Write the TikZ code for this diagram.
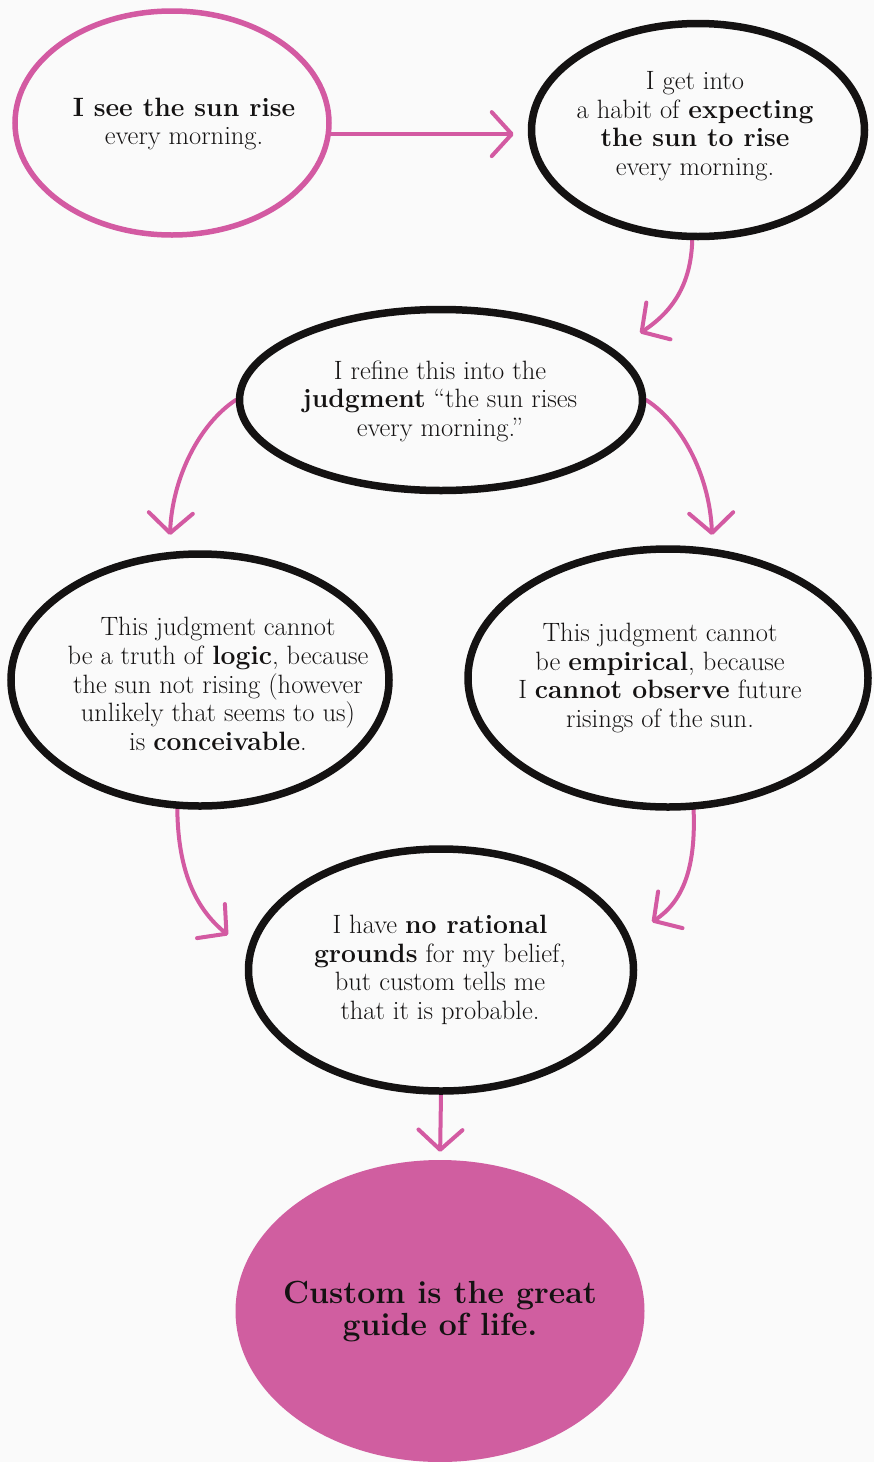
\documentclass[tikz,border=0pt]{standalone}
\usetikzlibrary{arrows.meta,shapes.geometric,calc}
\definecolor{hpink}{RGB}{211,90,162}
\definecolor{hfill}{RGB}{208,94,160}
\definecolor{ink}{RGB}{20,18,18}
\definecolor{paper}{RGB}{250,250,250}
\pgfdeclarelayer{back}
\pgfdeclarelayer{arrowlayer}
\pgfsetlayers{back,arrowlayer,main}
\begin{document}
\begin{tikzpicture}[x=1pt,y=-1pt,
  bubble/.style={ellipse, draw=ink, line width=7.5pt, inner sep=0pt},
  pinkbubble/.style={ellipse, draw=hpink, line width=5.5pt, inner sep=0pt},
  goal/.style={ellipse, fill=hfill, inner sep=0pt},
  txt/.style={align=center, font=\fontsize{26.5}{28.6}\selectfont, text=ink, inner sep=0pt},
  bigtxt/.style={align=center, font=\fontsize{32}{32}\selectfont\bfseries, text=ink, inner sep=0pt},
  parrow/.style={draw=hpink, line width=4pt, line cap=round,
    -{Straight Barb[length=20pt,width=44pt,round]}}
]
\useasboundingbox (0,0) rectangle (874,1462);
\begin{pgfonlayer}{back}
  \fill[paper] (0,0) rectangle (874,1462);
\end{pgfonlayer}

% bubbles
\node[pinkbubble, minimum width=314pt, minimum height=224pt] (A) at (172,123) {};
\node[bubble, minimum width=333pt, minimum height=213pt] (B) at (698,130) {};
\node[bubble, minimum width=403pt, minimum height=181pt] (C) at (441,400) {};
\node[bubble, minimum width=378pt, minimum height=252pt] (D) at (200,680) {};
\node[bubble, minimum width=400pt, minimum height=258pt] (E) at (668,678) {};
\node[bubble, minimum width=385pt, minimum height=242pt] (F) at (441,970) {};
\node[goal, minimum width=409pt, minimum height=302pt] (G) at (440,1311) {};

% texts
\node[txt] (tA) at (184,124) {\textbf{I see the sun rise}\\every morning.};
\node[txt] (tB) at (695,126) {I get into\\a habit of \textbf{expecting}\\\textbf{the sun to rise}\\every morning.};
\node[txt] (tC) at (440,401) {I refine this into the\\\textbf{judgment} ``the sun rises\\every morning.''};
\node[txt] (tD) at (218,684) {This judgment cannot\\be a truth of \textbf{logic}, because\\the sun not rising (however\\unlikely that seems to us)\\is \textbf{conceivable}.};
\node[txt] (tE) at (660,678) {This judgment cannot\\be \textbf{empirical}, because\\I \textbf{cannot observe} future\\risings of the sun.};
\node[txt] (tF) at (440,970) {I have \textbf{no rational}\\\textbf{grounds} for my belief,\\but custom tells me\\that it is probable.};
\node[bigtxt] (tG) at (440,1312) {Custom is the great\\guide of life.};

% arrow tips
\coordinate (tipC) at (640,333);
\coordinate (tipD) at (170,535);
\coordinate (tipE) at (712,535);
\coordinate (tipF1) at (228,935);
\coordinate (tipF2) at (652,922);

\begin{pgfonlayer}{arrowlayer}
  \draw[parrow, shorten >=14pt] (A.-4) -- (A.-4 -| B.west);
  \draw[parrow] (B.-93) .. controls (691,285) and (672,312) .. (tipC);
  \draw[parrow] (C.west) .. controls (198,425) and (172,480) .. (tipD);
  \draw[parrow] (C.east) .. controls (685,425) and (710,480) .. (tipE);
  \draw[parrow] (D.-100) .. controls (178,870) and (195,908) .. (tipF1);
  \draw[parrow] (E.-79) .. controls (696,870) and (682,902) .. (tipF2);
  \draw[parrow, shorten >=8pt] (F.south) -- (G.north);
\end{pgfonlayer}
\end{tikzpicture}
\end{document}
